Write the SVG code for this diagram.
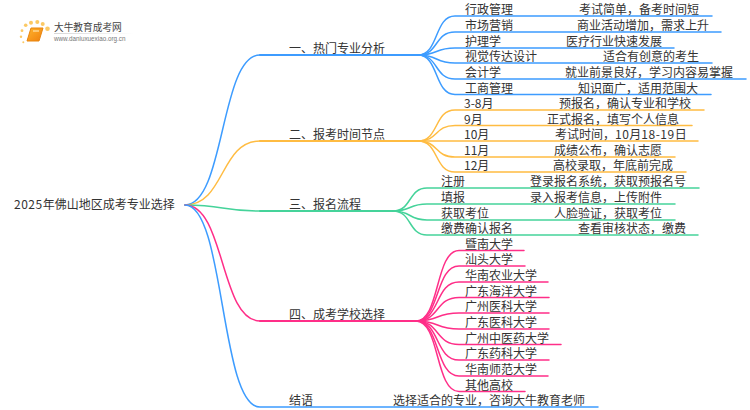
<svg xmlns="http://www.w3.org/2000/svg" width="750" height="410" viewBox="0 0 750 410">
<style>
text{font-family:"Noto Sans CJK SC","Liberation Sans",sans-serif;font-size:12px;fill:#333}
.c{fill:none;stroke-linecap:round;stroke-width:1.5}
.m{stroke-width:2}
.b{stroke:#3d9cff}.o{stroke:#ffbc42}.g{stroke:#45d39a}.p{stroke:#ff2e88}
.d{letter-spacing:.5px}
</style>
<defs>
<linearGradient id="fade" x1="0" x2="1" y1="0" y2="0"><stop offset="0" stop-color="#ccc"/><stop offset="1" stop-color="#fff"/></linearGradient>
<linearGradient id="book" x1="0" x2="1" y1="0" y2="1"><stop offset="0" stop-color="#ffb52e"/><stop offset="1" stop-color="#f07f0c"/></linearGradient>
</defs>
<g id="logo">
<g fill="#fbc04a" opacity="0.85"><circle cx="47.500" cy="28.700" r="2.300"/><circle cx="42.700" cy="24" r="2"/><circle cx="37.300" cy="22" r="2"/><circle cx="31" cy="22.700" r="2"/><circle cx="25.700" cy="25.300" r="1.800"/><circle cx="22" cy="30.700" r="1.400"/><circle cx="21" cy="36.700" r="1.200"/><circle cx="23.300" cy="42.300" r="1"/></g>
<path d="M31 28H43L39 41H27Z" fill="url(#book)" stroke="#e8850f" stroke-width="1" stroke-linejoin="round"/>
<path d="M33 31H39" stroke="#fff2c8" stroke-width="1"/>
<text x="54" y="31" style="font-size:9.700px;fill:#444">大牛教育成考网</text>
<rect x="54" y="33" width="80" height="0.800" fill="url(#fade)"/>
<text x="54" y="41" style="font-size:6.300px;fill:#777;font-family:'Liberation Sans',sans-serif">www.daniuxuexiao.org.cn</text>
</g>
<g id="connectors">
<path class="c b" d="M185 205C225 205 220 55 260 55"/><path class="c m b" d="M260 55H418"/>
<path class="c o" d="M185 205C225 205 220 141 260 141"/><path class="c m o" d="M260 141H418"/>
<path class="c g" d="M185 205C225 205 220 211 260 211"/><path class="c m g" d="M260 211H393"/>
<path class="c p" d="M185 205C225 205 220 321 260 321"/><path class="c m p" d="M260 321H416"/>
<path class="c b" d="M185 205C225 205 220 407 260 407H598"/>
<path class="c b" d="M418 55C439 55 434 16 455 16H712"/>
<path class="c b" d="M418 55C439 55 434 32 455 32H721"/>
<path class="c b" d="M418 55C439 55 434 48 455 48H674"/>
<path class="c b" d="M418 55C439 55 434 63 455 63H712"/>
<path class="c b" d="M418 55C439 55 434 79 455 79H746"/>
<path class="c b" d="M418 55C439 55 434 94.500 455 94.500H711"/>
<path class="c o" d="M418 141C439 141 434 110 455 110H704"/>
<path class="c o" d="M418 141C439 141 434 125.500 455 125.500H692"/>
<path class="c o" d="M418 141H698"/>
<path class="c o" d="M418 141C439 141 434 157 455 157H675"/>
<path class="c o" d="M418 141C439 141 434 172 455 172H686"/>
<path class="c g" d="M393 211C412 211 408 188 427 188H699"/>
<path class="c g" d="M393 211C412 211 408 204 427 204H675"/>
<path class="c g" d="M393 211C412 211 408 220 427 220H675"/>
<path class="c g" d="M393 211C412 211 408 235 427 235H698"/>
<path class="c p" d="M416 321C440 321 435 250.500 459 250.500H524"/>
<path class="c p" d="M416 321C440 321 435 266 459 266H525"/>
<path class="c p" d="M416 321C440 321 435 282 459 282H548"/>
<path class="c p" d="M416 321C440 321 435 297.500 459 297.500H549"/>
<path class="c p" d="M416 321C440 321 435 313 459 313H549"/>
<path class="c p" d="M416 321C440 321 435 329 459 329H549"/>
<path class="c p" d="M416 321C440 321 435 344.500 459 344.500H561"/>
<path class="c p" d="M416 321C440 321 435 360 459 360H549"/>
<path class="c p" d="M416 321C440 321 435 376 459 376H548"/>
<path class="c p" d="M416 321C440 321 435 391.500 459 391.500H525"/>
</g>
<g id="root"><text x="14" y="209"><tspan class="d">2025</tspan>年佛山地区成考专业选择</text></g>
<g id="n1"><text x="289" y="53">一、热门专业分析</text>
<text x="465" y="14">行政管理</text><text x="579" y="14">考试简单，备考时间短</text>
<text x="465" y="30">市场营销</text><text x="577" y="30">商业活动增加，需求上升</text>
<text x="465" y="46">护理学</text><text x="566" y="46">医疗行业快速发展</text>
<text x="465" y="61">视觉传达设计</text><text x="603" y="61">适合有创意的考生</text>
<text x="465" y="77">会计学</text><text x="565" y="77">就业前景良好，学习内容易掌握</text>
<text x="465" y="92.500">工商管理</text><text x="578" y="92.500">知识面广，适用范围大</text></g>
<g id="n2"><text x="289" y="139">二、报考时间节点</text>
<text x="464" y="108">3-8月</text><text x="559" y="108">预报名，确认专业和学校</text>
<text x="464" y="123.500">9月</text><text x="547" y="123.500">正式报名，填写个人信息</text>
<text x="464" y="139">10月</text><text x="555" y="139">考试时间，<tspan class="d">10</tspan>月<tspan class="d">18-19</tspan>日</text>
<text x="464" y="155">11月</text><text x="554" y="155">成绩公布，确认志愿</text>
<text x="464" y="170">12月</text><text x="553" y="170">高校录取，年底前完成</text></g>
<g id="n3"><text x="289" y="209">三、报名流程</text>
<text x="441" y="186">注册</text><text x="530" y="186">登录报名系统，获取预报名号</text>
<text x="441" y="202">填报</text><text x="530" y="202">录入报考信息，上传附件</text>
<text x="441" y="218">获取考位</text><text x="554" y="218">人脸验证，获取考位</text>
<text x="441" y="233">缴费确认报名</text><text x="578" y="233">查看审核状态，缴费</text></g>
<g id="n4"><text x="289" y="319">四、成考学校选择</text>
<text x="465" y="248.500">暨南大学</text><text x="465" y="264">汕头大学</text><text x="465" y="280">华南农业大学</text><text x="465" y="295.500">广东海洋大学</text><text x="465" y="311">广州医科大学</text><text x="465" y="327">广东医科大学</text><text x="465" y="342.500">广州中医药大学</text><text x="465" y="358">广东药科大学</text><text x="465" y="374">华南师范大学</text><text x="465" y="389.500">其他高校</text></g>
<g id="n5"><text x="289" y="405">结语</text><text x="393" y="405">选择适合的专业，咨询大牛教育老师</text></g>
</svg>
